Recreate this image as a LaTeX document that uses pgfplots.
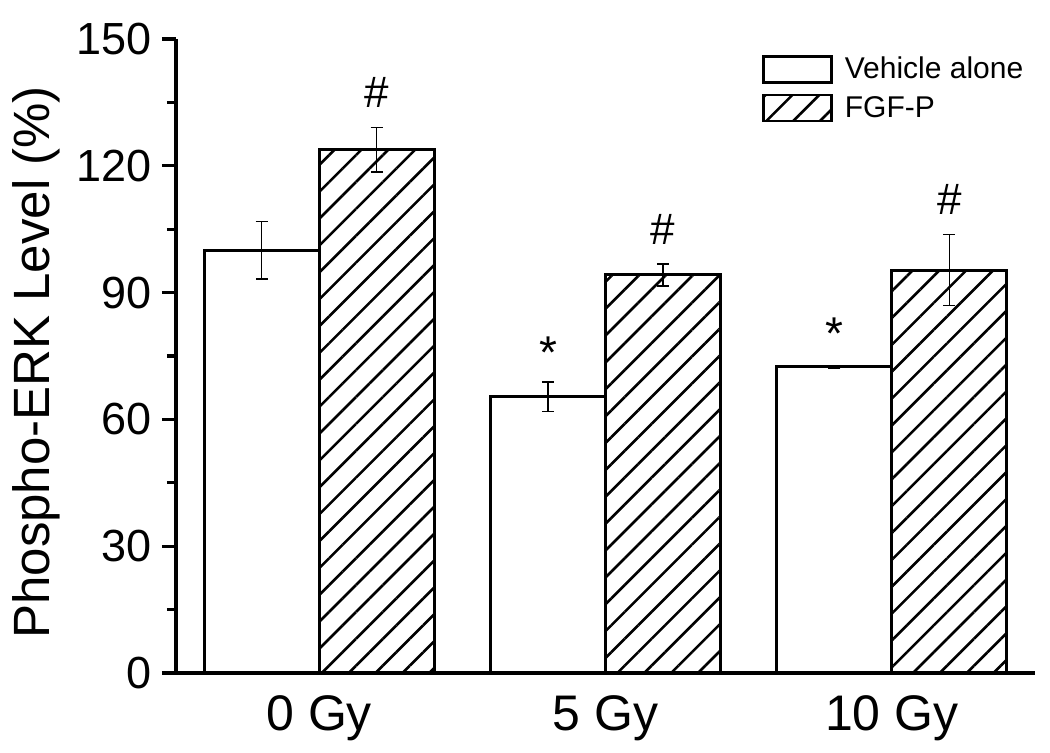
\documentclass[border=0pt]{standalone}
\usepackage{fontspec}
\setmainfont{Liberation Sans}
\usepackage{pgfplots}
\pgfplotsset{compat=1.18}
\usetikzlibrary{patterns.meta}

\begin{document}
\begin{tikzpicture}
\begin{axis}[
  width=429.5pt, height=317pt, scale only axis,
  xmin=-0.5, xmax=2.5, ymin=0, ymax=150,
  ybar=0pt, bar width=57.5pt,
  axis x line*=bottom, axis y line*=left,
  axis line style={line width=1.6pt, -},
  xtick={0,1,2}, xticklabels={0 Gy,5 Gy,10 Gy},
  x tick style={draw=none},
  ytick={0,30,...,150}, minor y tick num=1,
  tick align=outside,
  y tick style={line width=1.6pt, black},
  major tick length=7pt, minor tick length=4.5pt,
  /pgf/number format/assume math mode=true,
  yticklabel style={font=\fontsize{22.5}{26}\selectfont, inner sep=0pt, anchor=east, xshift=-5pt},
  xticklabel style={font=\fontsize{25}{30}\selectfont, inner sep=0pt, anchor=north, yshift=-4pt},
  ylabel={Phospho-ERK Level (\%)},
  ylabel style={font=\fontsize{25.5}{30}\selectfont, at={(axis description cs:-0.163,0.49)}, anchor=center},
  legend style={at={(0.682,0.975)}, anchor=north west, draw=none, fill=none,
    font=\fontsize{15}{18}\selectfont, row sep=5pt, column sep=6pt, inner sep=0pt, nodes={inner sep=0pt}},
  legend cell align=left,
  legend image code/.code={\draw[#1, line width=1.3pt] (0pt,-6.5pt) rectangle (34pt,6.5pt);},
  clip=false,
]
\addplot[fill=white, draw=black, line width=1.5pt,
  error bars/.cd, y dir=both, y explicit,
  error bar style={line width=0.8pt, black},
  error mark options={rotate=90, mark size=3pt, line width=0.8pt, black}]
  coordinates {(0,100) +- (0,6.8) (1,65.4) +- (0,3.5) (2,72.4) +- (0,0.3)};
\addlegendentry{Vehicle alone}
\addplot[pattern={Lines[angle=45,distance=9.5pt,line width=1.3pt]}, draw=black, line width=1.5pt,
  error bars/.cd, y dir=both, y explicit,
  error bar style={line width=0.8pt, black},
  error mark options={rotate=90, mark size=3pt, line width=0.8pt, black}]
  coordinates {(0,123.8) +- (0,5.3) (1,94.2) +- (0,2.6) (2,95.3) +- (0,8.4)};
\addlegendentry{FGF-P}
\node[font=\fontsize{22}{24}\selectfont, inner sep=0pt, anchor=center, xshift=28.75pt] at (axis cs:0,137.4) {\#};
\node[font=\fontsize{22}{24}\selectfont, inner sep=0pt, anchor=center, xshift=28.75pt] at (axis cs:1,105.0) {\#};
\node[font=\fontsize{22}{24}\selectfont, inner sep=0pt, anchor=center, xshift=28.75pt] at (axis cs:2,112.1) {\#};
\node[font=\fontsize{23}{24}\selectfont, inner sep=0pt, anchor=north, xshift=-28.75pt] at (axis cs:1,79.6) {*};
\node[font=\fontsize{23}{24}\selectfont, inner sep=0pt, anchor=north, xshift=-28.75pt] at (axis cs:2,84.2) {*};
\end{axis}
\pgfresetboundingbox
\path (current axis.south west) +(-88pt,-40pt) rectangle +(437pt,336.5pt);
\end{tikzpicture}
\end{document}
